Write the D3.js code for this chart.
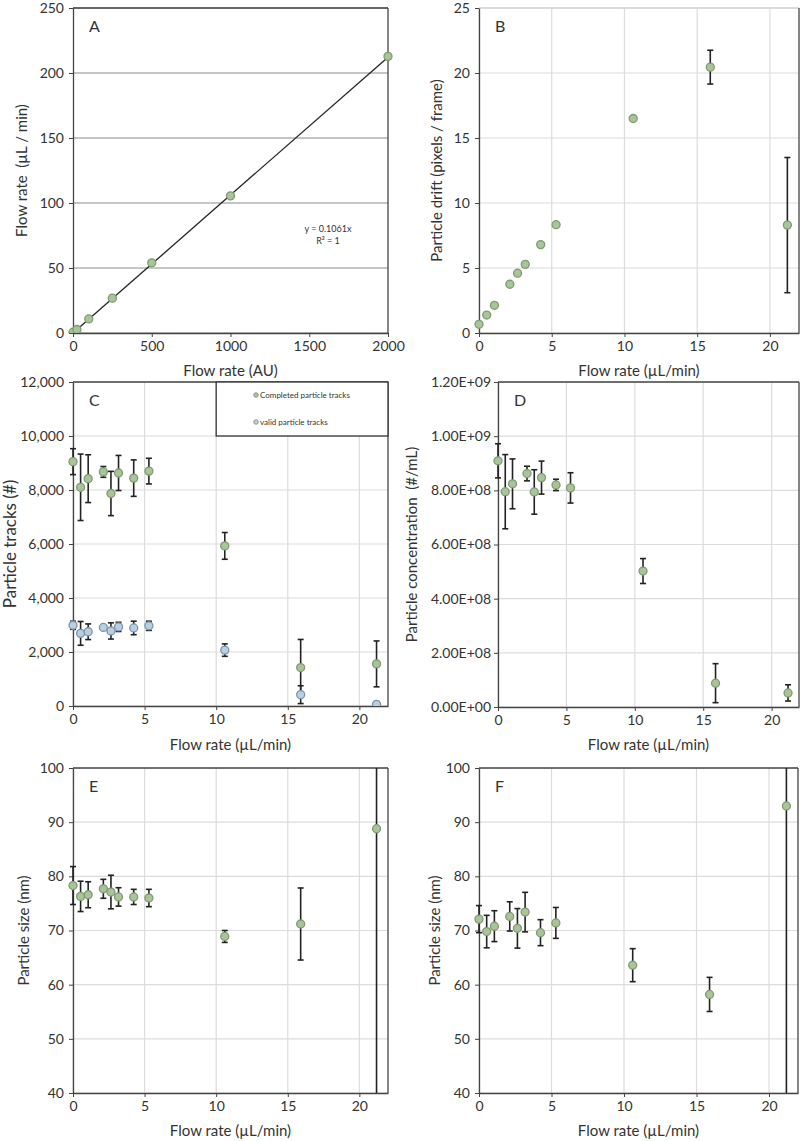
<!DOCTYPE html>
<html>
<head>
<meta charset="utf-8">
<script src="https://cdn.jsdelivr.net/npm/d3@7"></script>
<style>
  body { margin: 0; background: #fff; }
  svg text { font-family: Lato, "Open Sans", sans-serif; fill: #333; }
</style>
</head>
<body>
<script>
// Panel A: calibration, AU vs µL/min
const auValues = [0, 25, 100, 250, 500, 1000, 2000];
const auFlow = [0.6, 2.7, 10.8, 26.8, 54, 105.5, 212.8];
const fitSlope = 0.1061;

// flow rates used in panels B-F (µL/min)
const flowRates = [0, 0.53, 1.06, 2.12, 2.65, 3.18, 4.24, 5.3, 10.6, 15.9, 21.2];

// B: particle drift
const drift = [0.67, 1.38, 2.13, 3.75, 4.6, 5.28, 6.8, 8.33, 16.5, 20.45, 8.3];
const driftErr = [0, 0, 0, 0, 0, 0, 0, 0, 0, 1.3, 5.2];

// C: particle tracks
const completedTracks = [9050, 8100, 8420, 8670, 7870, 8630, 8440, 8700, 5930, 1425, 1560];
const completedErr = [480, 1230, 885, 200, 820, 650, 675, 475, 495, 1040, 850];
const validTracks = [2990, 2690, 2750, 2910, 2780, 2930, 2890, 2970, 2070, 420, 60];
const validErr = [150, 440, 290, 50, 300, 170, 250, 170, 230, 330, 40];

// D: particle concentration
const concentration = [9.09e8, 7.95e8, 8.24e8, 8.62e8, 7.94e8, 8.47e8, 8.2e8, 8.09e8, 5.02e8, 0.88e8, 0.52e8];
const concErr = [0.63e8, 1.37e8, 0.92e8, 0.27e8, 0.82e8, 0.61e8, 0.21e8, 0.56e8, 0.46e8, 0.72e8, 0.3e8];

// E, F: particle size
const sizeE = [78.3, 76.3, 76.6, 77.7, 77.1, 76.2, 76.2, 76.0, 68.9, 71.2, 88.8];
const sizeEErr = [3.5, 2.8, 2.4, 1.75, 3.1, 1.7, 1.4, 1.6, 1.1, 6.65, 60];
const sizeF = [72.1, 69.8, 70.8, 72.6, 70.4, 73.4, 69.6, 71.4, 63.6, 58.2, 93.0];
const sizeFErr = [2.5, 3, 2.85, 2.7, 3.65, 3.65, 2.4, 2.85, 3.05, 3.15, 60];

const legendLabels = ["Completed particle tracks", "valid particle tracks"];

const W = 800, H = 1141;
const green = { fill: "#a9c498", stroke: "#7f9a74" };
const blue = { fill: "#b8cfe3", stroke: "#7e93a8" };

const svg = d3.select("body").append("svg")
  .attr("width", W)
  .attr("height", H);

function sciFormat(d) {
  if (d === 0) return "0.00E+00";
  const parts = d.toExponential(2).split("e");
  const e = +parts[1];
  return parts[0] + "E" + (e < 0 ? "-" : "+") + String(Math.abs(e)).padStart(2, "0");
}

let clipId = 0;

function drawPanel(p) {
  const x = d3.scaleLinear().domain(p.xDomain).range([p.x0, p.x1]);
  const y = d3.scaleLinear().domain(p.yDomain).range([p.y1, p.y0]);
  const g = svg.append("g");

  // gridlines
  g.append("g")
    .selectAll("line")
    .data(p.yTicks)
    .enter()
    .append("line")
    .attr("x1", p.x0).attr("x2", p.x1)
    .attr("y1", d => y(d)).attr("y2", d => y(d))
    .attr("stroke", p.hGridColor || "#dcdcdc")
    .attr("stroke-width", 1.2);

  if (p.xGrid) {
    g.append("g")
      .selectAll("line")
      .data(p.xTicks)
      .enter()
      .append("line")
      .attr("x1", d => x(d)).attr("x2", d => x(d))
      .attr("y1", p.y0).attr("y2", p.y1)
      .attr("stroke", "#dcdcdc")
      .attr("stroke-width", 1.2);
  }

  // frame
  const frameColor = "#444";
  g.append("line").attr("x1", p.x0).attr("x2", p.x1).attr("y1", p.y0).attr("y2", p.y0)
    .attr("stroke", p.lightTop ? "#d4d4d4" : frameColor).attr("stroke-width", 1.3);
  g.append("line").attr("x1", p.x1).attr("x2", p.x1).attr("y1", p.y0).attr("y2", p.y1)
    .attr("stroke", frameColor).attr("stroke-width", 1.3);

  // axes
  const xAxis = d3.axisBottom(x).tickValues(p.xTicks).tickSizeInner(4).tickSizeOuter(0).tickPadding(4)
    .tickFormat(d => d);
  const yAxis = d3.axisLeft(y).tickValues(p.yTicks).tickSizeInner(4).tickSizeOuter(0).tickPadding(p.yPad || 5)
    .tickFormat(p.yFormat || (d => d));

  const gx = g.append("g").attr("transform", `translate(0,${p.y1})`).call(xAxis);
  const gy = g.append("g").attr("transform", `translate(${p.x0},0)`).call(yAxis);
  [gx, gy].forEach(a => {
    a.select(".domain").attr("stroke", frameColor).attr("stroke-width", 1.3);
    a.selectAll(".tick line").attr("stroke", frameColor);
    a.selectAll(".tick text").style("font-size", "14px").attr("fill", "#333");
  });

  // axis titles
  g.append("text")
    .attr("x", (p.x0 + p.x1) / 2)
    .attr("y", p.xLabelY)
    .attr("text-anchor", "middle")
    .style("font-size", "15px")
    .text(p.xLabel);

  g.append("text")
    .attr("transform", `translate(${p.yLabelX},${(p.y0 + p.y1) / 2}) rotate(-90)`)
    .attr("text-anchor", "middle")
    .style("font-size", p.yLabelSize || "15px")
    .style("white-space", "pre")
    .attr("xml:space", "preserve")
    .text(p.yLabel);

  // panel letter
  g.append("text")
    .attr("x", p.x0 + 16)
    .attr("y", p.y0 + 24)
    .style("font-size", "16px")
    .text(p.letter);

  // clipped data layer
  const id = "clip" + (clipId++);
  svg.append("clipPath").attr("id", id)
    .append("rect")
    .attr("x", p.x0 - 6).attr("y", p.y0)
    .attr("width", p.x1 - p.x0 + 12).attr("height", p.y1 - p.y0);
  const dg = g.append("g").attr("clip-path", `url(#${id})`);

  if (p.extra) p.extra(dg, x, y);

  p.series.forEach(s => {
    const pts = s.xs.map((xv, i) => ({ x: xv, y: s.ys[i], e: s.errs ? s.errs[i] : 0 }));

    const eb = dg.append("g")
      .selectAll("g")
      .data(pts.filter(d => d.e > 0))
      .enter()
      .append("g")
      .attr("stroke", "#222")
      .attr("stroke-width", 1.6);
    eb.append("line")
      .attr("x1", d => x(d.x)).attr("x2", d => x(d.x))
      .attr("y1", d => y(d.y - d.e)).attr("y2", d => y(d.y + d.e));
    eb.append("line")
      .attr("x1", d => x(d.x) - 3).attr("x2", d => x(d.x) + 3)
      .attr("y1", d => y(d.y + d.e)).attr("y2", d => y(d.y + d.e));
    eb.append("line")
      .attr("x1", d => x(d.x) - 3).attr("x2", d => x(d.x) + 3)
      .attr("y1", d => y(d.y - d.e)).attr("y2", d => y(d.y - d.e));

    dg.append("g")
      .selectAll("circle")
      .data(pts)
      .enter()
      .append("circle")
      .attr("cx", d => x(d.x))
      .attr("cy", d => y(d.y))
      .attr("r", 4)
      .attr("fill", s.color.fill)
      .attr("stroke", s.color.stroke)
      .attr("stroke-width", 1.3);
  });

  return { x, y, g };
}

const flowTicks = [0, 5, 10, 15, 20];
const flowLabel = "Flow rate (\u00b5L/min)";

// A
drawPanel({
  letter: "A",
  x0: 73, x1: 388, y0: 8, y1: 333,
  xDomain: [0, 2000], yDomain: [0, 250],
  xTicks: [0, 500, 1000, 1500, 2000], yTicks: [0, 50, 100, 150, 200, 250],
  hGridColor: "#8c8c8c", xGrid: false,
  xLabel: "Flow rate (AU)", xLabelY: 376,
  yLabel: "Flow rate  (\u00b5L / min)", yLabelX: 27,
  series: [{ xs: auValues, ys: auFlow, color: green }],
  extra: (dg, x, y) => {
    dg.append("line")
      .attr("x1", x(0)).attr("y1", y(0))
      .attr("x2", x(2000)).attr("y2", y(fitSlope * 2000))
      .attr("stroke", "#222").attr("stroke-width", 1.3);
    dg.append("text").attr("x", 328).attr("y", 232).attr("text-anchor", "middle")
      .style("font-size", "9px").text("y = " + fitSlope + "x");
    dg.append("text").attr("x", 328).attr("y", 244).attr("text-anchor", "middle")
      .style("font-size", "9px").text("R\u00b2 = 1");
  }
});

// B
drawPanel({
  letter: "B",
  x0: 479, x1: 799, y0: 8, y1: 333,
  xDomain: [0, 22], yDomain: [0, 25],
  xTicks: flowTicks, yTicks: [0, 5, 10, 15, 20, 25],
  xGrid: true, lightTop: true,
  xLabel: flowLabel, xLabelY: 376,
  yLabel: "Particle drift (pixels / frame)", yLabelX: 442,
  series: [{ xs: flowRates, ys: drift, errs: driftErr, color: green }]
});

// C
const pc = drawPanel({
  letter: "C",
  x0: 73, x1: 388, y0: 382, y1: 706,
  xDomain: [0, 22], yDomain: [0, 12000],
  xTicks: flowTicks, yTicks: d3.range(0, 12001, 2000),
  yFormat: d3.format(","),
  xGrid: true,
  xLabel: flowLabel, xLabelY: 750,
  yLabel: "Particle tracks (#)", yLabelX: 16, yLabelSize: "17px",
  series: [
    { xs: flowRates, ys: completedTracks, errs: completedErr, color: green },
    { xs: flowRates, ys: validTracks, errs: validErr, color: blue }
  ]
});

// legend for C
const lg = pc.g.append("g");
lg.append("rect")
  .attr("x", pc.x(10)).attr("y", pc.y(12000))
  .attr("width", pc.x(22) - pc.x(10)).attr("height", pc.y(10000) - pc.y(12000))
  .attr("fill", "#fff").attr("stroke", "#333").attr("stroke-width", 1.3);
[green, blue].forEach((c, i) => {
  const ly = 395 + i * 27;
  lg.append("circle").attr("cx", 256).attr("cy", ly).attr("r", 2.3)
    .attr("fill", c.fill).attr("stroke", "#888").attr("stroke-width", 0.8);
  lg.append("text").attr("x", 260).attr("y", ly + 3)
    .style("font-size", "8px").attr("fill", "#555").text(legendLabels[i]);
});

// D
drawPanel({
  letter: "D",
  x0: 498, x1: 799, y0: 382, y1: 707,
  xDomain: [0, 22], yDomain: [0, 1.2e9],
  xTicks: flowTicks, yTicks: d3.range(0, 1.2e9 + 1, 2e8),
  yFormat: sciFormat, yPad: 3,
  xGrid: true,
  xLabel: flowLabel, xLabelY: 750,
  yLabel: "Particle concentration  (#/mL)", yLabelX: 417,
  series: [{ xs: flowRates, ys: concentration, errs: concErr, color: green }]
});

// E
drawPanel({
  letter: "E",
  x0: 73, x1: 388, y0: 768, y1: 1093,
  xDomain: [0, 22], yDomain: [40, 100],
  xTicks: flowTicks, yTicks: d3.range(40, 101, 10),
  xGrid: true,
  xLabel: flowLabel, xLabelY: 1136,
  yLabel: "Particle size (nm)", yLabelX: 29,
  series: [{ xs: flowRates, ys: sizeE, errs: sizeEErr, color: green }]
});

// F
drawPanel({
  letter: "F",
  x0: 479, x1: 798, y0: 768, y1: 1093,
  xDomain: [0, 22], yDomain: [40, 100],
  xTicks: flowTicks, yTicks: d3.range(40, 101, 10),
  xGrid: true,
  xLabel: flowLabel, xLabelY: 1136,
  yLabel: "Particle size (nm)", yLabelX: 440,
  series: [{ xs: flowRates, ys: sizeF, errs: sizeFErr, color: green }]
});
</script>
</body>
</html>
